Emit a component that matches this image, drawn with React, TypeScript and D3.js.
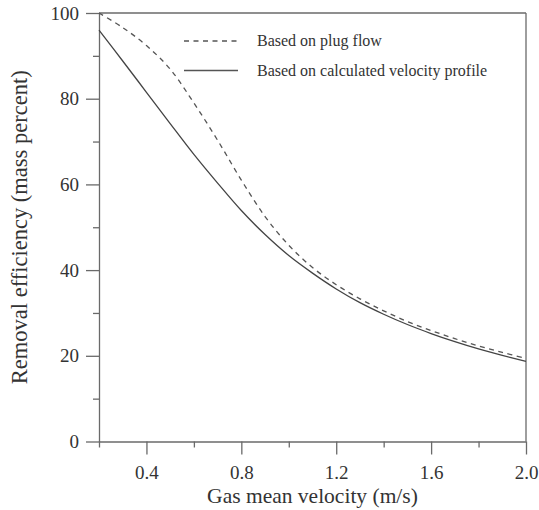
import React, { useEffect, useRef } from 'react';
import * as d3 from 'd3';

// gas mean velocity (m/s)
const velocity = [0.2, 0.3, 0.4, 0.5, 0.6, 0.7, 0.8, 0.9, 1.0, 1.1, 1.2, 1.3, 1.4, 1.5, 1.6, 1.7, 1.8, 1.9, 2.0];
// removal efficiency, plug flow (dashed)
const plugFlow = [100, 96.6, 92.4, 86.9, 79.0, 70.3, 61.0, 52.5, 45.8, 40.6, 36.6, 33.3, 30.5, 28.0, 25.9, 24.0, 22.3, 20.8, 19.4];
// removal efficiency, calculated velocity profile (solid)
const velProfile = [96.0, 88.8, 81.5, 74.2, 67.0, 60.3, 53.9, 48.3, 43.4, 39.3, 35.6, 32.4, 29.7, 27.3, 25.2, 23.3, 21.6, 20.1, 18.7];

const xMajor = [0.4, 0.8, 1.2, 1.6, 2.0];
const xMinor = [0.2, 0.6, 1.0, 1.4, 1.8];
const yMajor = [0, 20, 40, 60, 80, 100];
const yMinor = [10, 30, 50, 70, 90];

const legendItems = [
  { label: 'Based on plug flow', dash: '5 4.5' },
  { label: 'Based on calculated velocity profile', dash: null },
];

const FONT = '"Liberation Serif", "Times New Roman", serif';

export default function App() {
  const svgRef = useRef<SVGSVGElement>(null);

  useEffect(() => {
    const W = 539, H = 510;
    const margin = { top: 13, right: 13, bottom: 68.5, left: 99 };
    const w = W - margin.left - margin.right;
    const h = H - margin.top - margin.bottom;

    const svg = d3.select(svgRef.current);
    svg.selectAll('*').remove();
    svg.attr('width', W).attr('height', H);

    const x = d3.scaleLinear().domain([0.2, 2.0]).range([0, w]);
    const y = d3.scaleLinear().domain([0, 100]).range([h, 0]);

    const g = svg.append('g').attr('transform', `translate(${margin.left},${margin.top})`);
    const axisColor = '#6a6a6a';

    // frame (top, right)
    g.append('line').attr('x1', 0).attr('x2', w).attr('y1', 0).attr('y2', 0)
      .attr('stroke', axisColor).attr('stroke-width', 1.3);
    g.append('line').attr('x1', w).attr('x2', w).attr('y1', 0).attr('y2', h)
      .attr('stroke', axisColor).attr('stroke-width', 1.3);

    // minor ticks
    g.append('g').attr('transform', `translate(0,${h})`)
      .call(d3.axisBottom(x).tickValues(xMinor).tickSize(6).tickFormat(() => ''))
      .call(a => a.select('.domain').remove());
    g.append('g')
      .call(d3.axisLeft(y).tickValues(yMinor).tickSize(6).tickFormat(() => ''))
      .call(a => a.select('.domain').remove());

    // major axes
    const xAxis = g.append('g').attr('transform', `translate(0,${h})`)
      .call(d3.axisBottom(x).tickValues(xMajor).tickSize(13).tickSizeOuter(0).tickPadding(11).tickFormat(d3.format('.1f')));
    const yAxis = g.append('g')
      .call(d3.axisLeft(y).tickValues(yMajor).tickSize(13).tickSizeOuter(0).tickPadding(7).tickFormat(d3.format('d')));

    [xAxis, yAxis].forEach(a => {
      a.select('.domain').attr('stroke', axisColor).attr('stroke-width', 1.3);
      a.selectAll('text').attr('fill', '#333').style('font-family', FONT).style('font-size', '19px');
    });
    g.selectAll('.tick line').attr('stroke', axisColor).attr('stroke-width', 1.3);

    // curves
    const line = d3.line<number>()
      .x((_, i) => x(velocity[i]))
      .y(d => y(d))
      .curve(d3.curveCatmullRom.alpha(0.5));

    g.append('path').datum(plugFlow)
      .attr('d', line).attr('fill', 'none')
      .attr('stroke', '#555').attr('stroke-width', 1.3)
      .attr('stroke-dasharray', '5 4.5');
    g.append('path').datum(velProfile)
      .attr('d', line).attr('fill', 'none')
      .attr('stroke', '#444').attr('stroke-width', 1.3);

    // legend
    const legend = svg.append('g').attr('transform', 'translate(184,41)');
    legendItems.forEach((item, i) => {
      const row = legend.append('g').attr('transform', `translate(0,${i * 29.5})`);
      row.append('line').attr('x1', 0).attr('x2', 54).attr('y1', 0).attr('y2', 0)
        .attr('stroke', '#555').attr('stroke-width', 1.3)
        .attr('stroke-dasharray', item.dash);
      row.append('text').attr('x', 73).attr('y', 5)
        .attr('fill', '#333')
        .style('font-family', FONT).style('font-size', '16px')
        .text(item.label);
    });

    // axis titles
    svg.append('text')
      .attr('x', margin.left + w / 2).attr('y', 503)
      .attr('text-anchor', 'middle').attr('fill', '#333')
      .style('font-family', FONT).style('font-size', '21.5px')
      .text('Gas mean velocity (m/s)');
    svg.append('text')
      .attr('transform', `translate(27,${margin.top + h / 2}) rotate(-90)`)
      .attr('text-anchor', 'middle').attr('fill', '#333')
      .style('font-family', FONT).style('font-size', '22.5px')
      .text('Removal efficiency (mass percent)');
  }, []);

  return (
    <svg ref={svgRef} style={{ position: 'absolute', left: 0, top: 0, background: '#fff' }} />
  );
}
